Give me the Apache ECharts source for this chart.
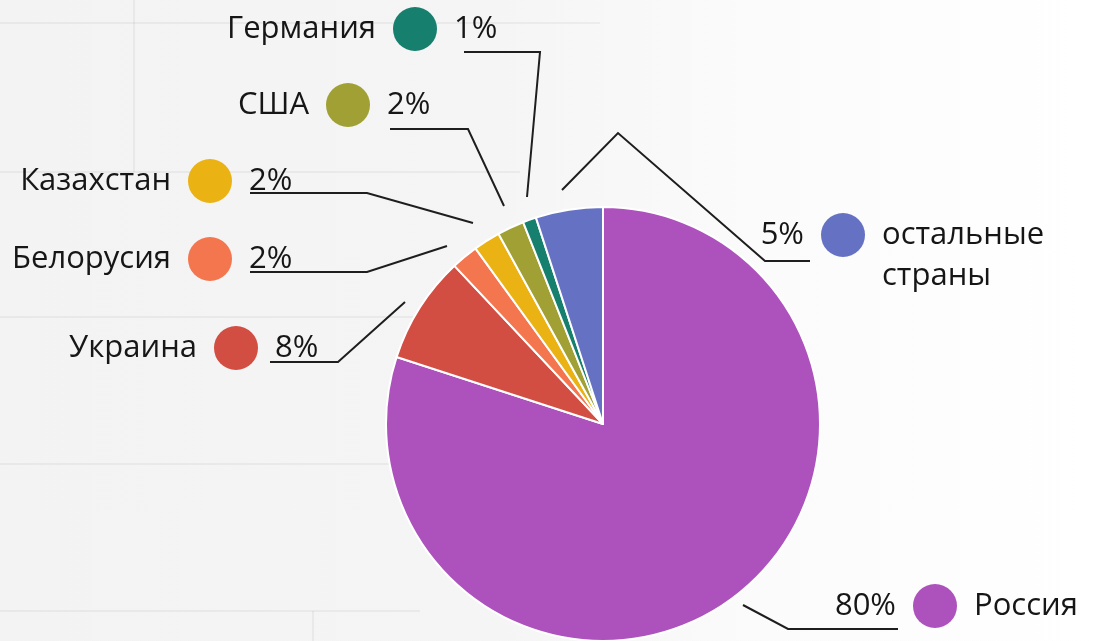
<!DOCTYPE html>
<html><head><meta charset="utf-8">
<script src="https://cdn.jsdelivr.net/npm/echarts@6/dist/echarts.min.js"></script>
<style>
html,body{margin:0;padding:0;width:1094px;height:641px;overflow:hidden;}
body{background:linear-gradient(to right,#f3f3f4 0%,#f5f5f6 45%,#fbfbfb 70%,#ffffff 100%);position:relative;}
.bl{position:absolute;background:rgba(0,0,0,0.045);}
#c{position:absolute;left:0;top:0;width:1094px;height:641px;}
</style></head><body>
<div class="bl" style="left:0;top:22px;width:600px;height:2px"></div>
<div class="bl" style="left:133px;top:0;width:2px;height:172px"></div>
<div class="bl" style="left:0;top:171px;width:520px;height:2px"></div>
<div class="bl" style="left:0;top:316px;width:420px;height:2px"></div>
<div class="bl" style="left:0;top:463px;width:390px;height:2px"></div>
<div class="bl" style="left:0;top:610px;width:420px;height:2px"></div>
<div class="bl" style="left:312px;top:611px;width:2px;height:30px"></div>
<div id="c"></div>
<script>
// ---- data ----
const categories = ['Россия', 'Украина', 'Белорусия', 'Казахстан', 'США', 'Германия', 'остальные страны'];
const values = [80, 8, 2, 2, 2, 1, 5];
const percentLabels = ['80%', '8%', '2%', '2%', '2%', '1%', '5%'];
const colors = ['#ad52bd', '#d24d42', '#f4764f', '#ebb213', '#a0a035', '#167f6d', '#6571c3'];

// ---- label layout (positions of dots and leader lines) ----
const labelSide = ['right', 'left', 'left', 'left', 'left', 'left', 'right'];
const dotCenters = [[935, 605], [236, 347], [210, 258], [210, 180], [348, 104], [415, 28], [843, 234]];
const leaderLines = [
  [[743, 605], [788, 629], [898, 629]],
  [[405, 302], [338, 362], [270, 362]],
  [[447, 246], [367, 272], [250, 272]],
  [[473, 223], [367, 193], [250, 193]],
  [[504, 206], [468, 129], [390, 129]],
  [[527, 197], [540, 52], [464, 52]],
  [[562, 190], [618, 133], [765, 261], [810, 261]]
];

const FONT = '"Open Sans", "DejaVu Sans", sans-serif';
const FS = 31;
const GAP = 17;
const DOT = 44;
const ctx = document.createElement('canvas').getContext('2d');
ctx.font = FS + 'px ' + FONT;
const tw = t => ctx.measureText(t).width;

const rich = {
  name: {fontSize: FS, fontFamily: FONT, color: '#161616', lineHeight: 38},
  pct: {fontSize: FS, fontFamily: FONT, color: '#161616', lineHeight: 38},
  g: {width: GAP}
};
colors.forEach((c, i) => {
  rich['d' + i] = {width: DOT, height: DOT, borderRadius: DOT / 2, backgroundColor: c, lineHeight: DOT};
});
rich.pad = {width: tw(percentLabels[6]) + GAP + DOT + GAP};

function labelText(i) {
  const nm = categories[i];
  if (labelSide[i] === 'left') {
    return '{name|' + nm + '}{g|}{d' + i + '|}{g|}{pct|' + percentLabels[i] + '}';
  }
  const parts = nm.split(' ');
  let s = '{pct|' + percentLabels[i] + '}{g|}{d' + i + '|}{g|}{name|' + parts[0] + '}';
  for (let k = 1; k < parts.length; k++) s += '\n{pad|}{name|' + parts[k] + '}';
  return s;
}

const data = categories.map((c, i) => ({
  name: c,
  value: values[i],
  itemStyle: {color: colors[i]},
  label: {formatter: labelText(i)}
}));

const chart = echarts.init(document.getElementById('c'), null, {renderer: 'canvas'});
chart.setOption({
  backgroundColor: 'transparent',
  animation: false,
  series: [{
    type: 'pie',
    center: [603, 424],
    radius: 217,
    startAngle: 90,
    clockwise: true,
    avoidLabelOverlap: false,
    silent: true,
    itemStyle: {borderColor: '#ffffff', borderWidth: 2},
    label: {
      show: true,
      position: 'outside',
      color: '#161616',
      fontSize: FS,
      fontFamily: FONT,
      rich: rich
    },
    labelLine: {show: true, length: 10, length2: 10, smooth: false,
      lineStyle: {color: '#1e1e1e', width: 2}},
    labelLayout: function (p) {
      const i = p.dataIndex;
      const dc = dotCenters[i];
      const dotLeft = dc[0] - DOT / 2;
      const multi = categories[i].indexOf(' ') >= 0 && labelSide[i] === 'right';
      let x;
      if (labelSide[i] === 'left') x = dotLeft - GAP - tw(categories[i]);
      else x = dotLeft - GAP - tw(percentLabels[i]);
      return {
        x: x,
        y: multi ? dc[1] - DOT / 2 + 1 : dc[1] + 1,
        align: 'left',
        verticalAlign: multi ? 'top' : 'middle',
        labelLinePoints: leaderLines[i]
      };
    },
    data: data
  }]
});
</script>
</body></html>
